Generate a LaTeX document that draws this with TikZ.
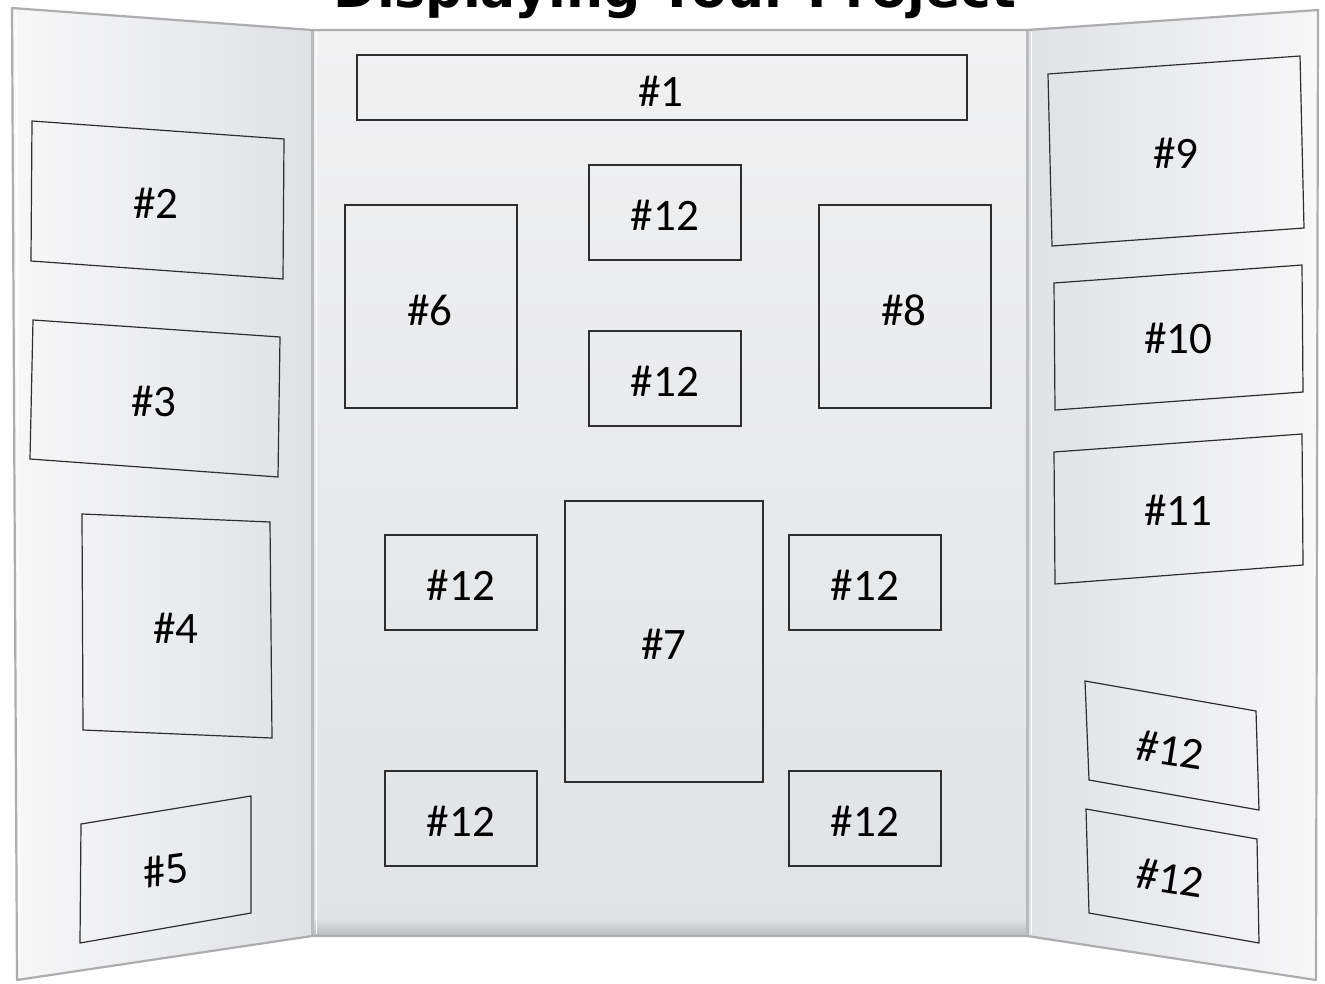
\documentclass[tikz,border=0pt]{standalone}
\usepackage{fontspec}
\setmainfont{Carlito}
\newfontfamily\titlefont{DejaVu Sans}
\definecolor{lpL}{HTML}{F7F7F8}
\definecolor{lpR}{HTML}{DFE1E5}
\definecolor{cpT}{HTML}{F1F1F2}
\definecolor{cpB}{HTML}{E0E2E5}
\definecolor{edgegray}{HTML}{ADADAF}
\definecolor{foldgray}{HTML}{B9BBBE}
\definecolor{boxline}{HTML}{2E2E2E}
\tikzset{
  boxpath/.style={draw=boxline, line width=1.2pt},
  lbl/.style={font=\fontsize{45}{54}\selectfont, text=black, inner sep=0pt},
  titletext/.style={font=\titlefont\bfseries\fontsize{52}{60}\selectfont, text=black, inner sep=0pt},
  outline/.style={draw=edgegray, line width=2.2pt, line join=round},
  foldline/.style={draw=foldgray, line width=3pt},
}
\begin{document}
\begin{tikzpicture}[x=1pt,y=-1pt]
\clip (0,0) rectangle (1325,983);
\fill[white] (0,0) rectangle (1325,983);
% panels
\shade[left color=lpL, right color=lpR] (12,8) -- (312,30) -- (312,936) -- (17,980) -- cycle;
\shade[top color=cpT, bottom color=cpB] (312,30) rectangle (1027,936);
\shade[left color=lpR, right color=lpL] (1027,30) -- (1318,10) -- (1316,980) -- (1027,936) -- cycle;
% bottom shadow band of center panel
\shade[top color=cpB, bottom color=foldgray] (312,918) rectangle (1027,936);
% folds
\draw[foldline] (312,30) -- (312,936);
\draw[foldline] (1027,30) -- (1027,936);
\draw[draw=white, line width=1pt] (316,32) -- (316,934);
\draw[draw=white, line width=1pt] (1031,32) -- (1031,934);
% outline
\draw[outline] (12,8) -- (312,30) -- (1027,30) -- (1318,10) -- (1316,980) -- (1027,936) -- (312,936) -- (17,980) -- cycle;
\draw[draw=white, line width=1pt] (16,14) -- (20,974);
% title
\node[titletext, anchor=base] (title) at (675,7) {Displaying Your Project};
% center boxes
\draw[boxpath] (357,55) rectangle (967,120);
\draw[boxpath] (589,165) rectangle (741,260);
\draw[boxpath] (345,205) rectangle (517,408);
\draw[boxpath] (819,205) rectangle (991,408);
\draw[boxpath] (589,331) rectangle (741,426);
\draw[boxpath] (565,501) rectangle (763,782);
\draw[boxpath] (385,535) rectangle (537,630);
\draw[boxpath] (789,535) rectangle (941,630);
\draw[boxpath] (385,771) rectangle (537,866);
\draw[boxpath] (789,771) rectangle (941,866);
% left boxes
\draw[boxpath] (32,121) -- (284,139) -- (283,279) -- (31,261) -- cycle;
\draw[boxpath] (33,320) -- (280,337) -- (278,477) -- (30,459) -- cycle;
\draw[boxpath] (82,514) -- (270,522) -- (272,738) -- (83,730) -- cycle;
\draw[boxpath] (81,824) -- (251,796) -- (251,913) -- (80,943) -- cycle;
% right boxes
\draw[boxpath] (1048,74) -- (1300,56) -- (1304,228) -- (1052,246) -- cycle;
\draw[boxpath] (1054,283) -- (1302,265) -- (1303,392) -- (1055,410) -- cycle;
\draw[boxpath] (1054,452) -- (1302,434) -- (1303,565) -- (1055,584) -- cycle;
\draw[boxpath] (1085,681) -- (1256,711) -- (1259,810) -- (1089,780) -- cycle;
\draw[boxpath] (1086,809) -- (1257,839) -- (1259,943) -- (1089,913) -- cycle;
% labels
\node[lbl] (l1) at (661,91) {\#1};
\node[lbl] (l12a) at (665,215) {\#12};
\node[lbl] (l6) at (430,310) {\#6};
\node[lbl] (l8) at (904,310) {\#8};
\node[lbl] (l12b) at (665,381) {\#12};
\node[lbl] (l7) at (664,644) {\#7};
\node[lbl] (l12c) at (461,585) {\#12};
\node[lbl] (l12d) at (865,585) {\#12};
\node[lbl] (l12e) at (461,821) {\#12};
\node[lbl] (l12f) at (865,821) {\#12};
\node[lbl] (l2) at (156,203) {\#2};
\node[lbl] (l3) at (154,401) {\#3};
\node[lbl] (l4) at (176,628) {\#4};
\node[lbl, rotate=8] (l5) at (166,870) {\#5};
\node[lbl] (l9) at (1176,153) {\#9};
\node[lbl] (l10) at (1178,338) {\#10};
\node[lbl] (l11) at (1178,510) {\#11};
\node[lbl, rotate=-9] (l12g) at (1170,750) {\#12};
\node[lbl, rotate=-9] (l12h) at (1170,878) {\#12};
\end{tikzpicture}
\end{document}
